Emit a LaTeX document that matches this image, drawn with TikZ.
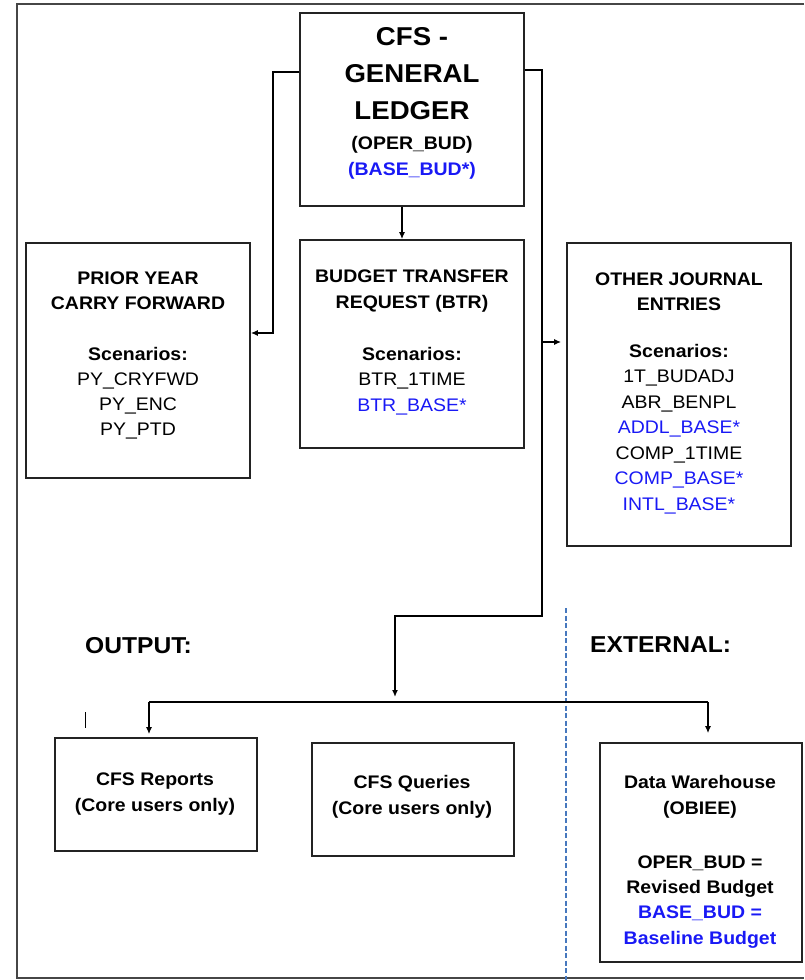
\documentclass[tikz,border=0pt]{standalone}
\usepackage{fontspec}
\setmainfont{Liberation Sans}[FakeStretch=1.07]
\usetikzlibrary{arrows.meta,calc}
\definecolor{bluetxt}{RGB}{25,25,245}
\definecolor{dashblue}{RGB}{70,120,190}
\definecolor{framegray}{RGB}{70,70,70}
\definecolor{boxline}{RGB}{35,35,35}
\begin{document}
\begin{tikzpicture}[x=1pt,y=-1pt,
  box/.style={draw=boxline,line width=1.6pt,inner sep=0pt,rectangle},
  txt/.style={anchor=base,inner sep=0pt,font=\fontsize{18.2}{21}\selectfont},
  btxt/.style={anchor=base,inner sep=0pt,font=\fontsize{18.2}{21}\selectfont\bfseries},
  ttl/.style={anchor=base,inner sep=0pt,font=\fontsize{25.8}{30}\selectfont\bfseries},
  hdr/.style={anchor=base west,inner sep=0pt,font=\fontsize{23}{27}\selectfont\bfseries},
  conn/.style={draw=black,line width=1.4pt},
  arr/.style={conn,-{Latex[length=7pt,width=6pt]}}]
\useasboundingbox (0,0) rectangle (804,980);

% outer frame (open on the right)
\coordinate (F1) at (804,4);
\coordinate (F2) at (17,4);
\coordinate (F3) at (17,978);
\coordinate (F4) at (804,978);
\draw[framegray,line width=2.5pt] (F1) -- (F2) -- (F3) -- (F4);

% boxes
\node[box,minimum width=224pt,minimum height=193pt] (gl) at (412,109.5) {};
\node[box,minimum width=224pt,minimum height=235pt] (py) at (138,360.5) {};
\node[box,minimum width=224pt,minimum height=208pt] (btr) at (412,344) {};
\node[box,minimum width=224pt,minimum height=303pt] (oje) at (679,394.5) {};
\node[box,minimum width=202pt,minimum height=113pt] (rep) at (156,794.5) {};
\node[box,minimum width=202pt,minimum height=113pt] (qry) at (413,799.5) {};
\node[box,minimum width=202pt,minimum height=219pt] (dw) at (701,852.5) {};

% general ledger text
\node[ttl] (gl1) at (412,45) {CFS -};
\node[ttl] (gl2) at (412,82) {GENERAL};
\node[ttl] (gl3) at (412,119) {LEDGER};
\node[btxt] (gl4) at (412,149) {(OPER\_BUD)};
\node[btxt,text=bluetxt] (gl5) at (412,175) {(BASE\_BUD*)};

% prior year text
\node[btxt] (py1) at (138,284) {PRIOR YEAR};
\node[btxt] (py2) at (138,309) {CARRY FORWARD};
\node[btxt] (py3) at (138,360) {Scenarios:};
\node[txt] (py4) at (138,385) {PY\_CRYFWD};
\node[txt] (py5) at (138,410) {PY\_ENC};
\node[txt] (py6) at (138,435) {PY\_PTD};

% BTR text
\node[btxt] (bt1) at (412,282) {BUDGET TRANSFER};
\node[btxt] (bt2) at (412,308) {REQUEST (BTR)};
\node[btxt] (bt3) at (412,360) {Scenarios:};
\node[txt] (bt4) at (412,385) {BTR\_1TIME};
\node[txt,text=bluetxt] (bt5) at (412,411) {BTR\_BASE*};

% other journal entries text
\node[btxt] (oj1) at (679,285) {OTHER JOURNAL};
\node[btxt] (oj2) at (679,310) {ENTRIES};
\node[btxt] (oj3) at (679,357) {Scenarios:};
\node[txt] (oj4) at (679,382.5) {1T\_BUDADJ};
\node[txt] (oj5) at (679,408) {ABR\_BENPL};
\node[txt,text=bluetxt] (oj6) at (679,433.5) {ADDL\_BASE*};
\node[txt] (oj7) at (679,459) {COMP\_1TIME};
\node[txt,text=bluetxt] (oj8) at (679,484.5) {COMP\_BASE*};
\node[txt,text=bluetxt] (oj9) at (679,510) {INTL\_BASE*};

% output boxes text
\node[btxt] (rp1) at (155,785) {CFS Reports};
\node[btxt] (rp2) at (155,811) {(Core users only)};
\node[btxt] (qr1) at (412,788) {CFS Queries};
\node[btxt] (qr2) at (412,814) {(Core users only)};
\node[btxt] (dw1) at (700,788) {Data Warehouse};
\node[btxt] (dw2) at (700,814) {(OBIEE)};
\node[btxt] (dw3) at (700,868) {OPER\_BUD =};
\node[btxt] (dw4) at (700,893) {Revised Budget};
\node[btxt,text=bluetxt] (dw5) at (700,918) {BASE\_BUD =};
\node[btxt,text=bluetxt] (dw6) at (700,944) {Baseline Budget};

% section labels
\node[hdr] (out) at (85,653) {OUTPUT:};
\node[hdr] (ext) at (590,652) {EXTERNAL:};

% dashed separator
\coordinate (D1) at (566,608);
\coordinate (D2) at (566,980);
\draw[dashblue,line width=2pt,dash pattern=on 5pt off 2.5pt] (D1) -- (D2);

% connectors
\coordinate (X1) at (402,0);
\draw[arr] (gl.south -| X1) -- (btr.north -| X1);

\coordinate (L1) at (273,72);
\coordinate (L2) at (273,333);
\draw[arr] (gl.west |- L1) -- (L1) -- (L2) -- (py.east |- L2);

\coordinate (R1) at (542,70);
\coordinate (R2) at (542,342);
\coordinate (R3) at (542,616);
\coordinate (R4) at (395,616);
\coordinate (R5) at (395,697);
\draw[arr] (gl.east |- R1) -- (R1) -- (R3) -- (R4) -- (R5);
\draw[arr,shorten >=5pt] (R2) -- (oje.west |- R2);

\coordinate (B1) at (149,702);
\coordinate (B2) at (708,702);
\draw[conn] (B1) -- (B2);
\draw[arr,shorten >=3pt] (B1) -- (B1 |- rep.north);
\draw[arr,shorten >=9pt] (B2) -- (B2 |- dw.north);

% small stray mark
\coordinate (M1) at (85,712);
\coordinate (M2) at (85,728);
\draw[line width=1pt] (M1) -- (M2);
\end{tikzpicture}
\end{document}
